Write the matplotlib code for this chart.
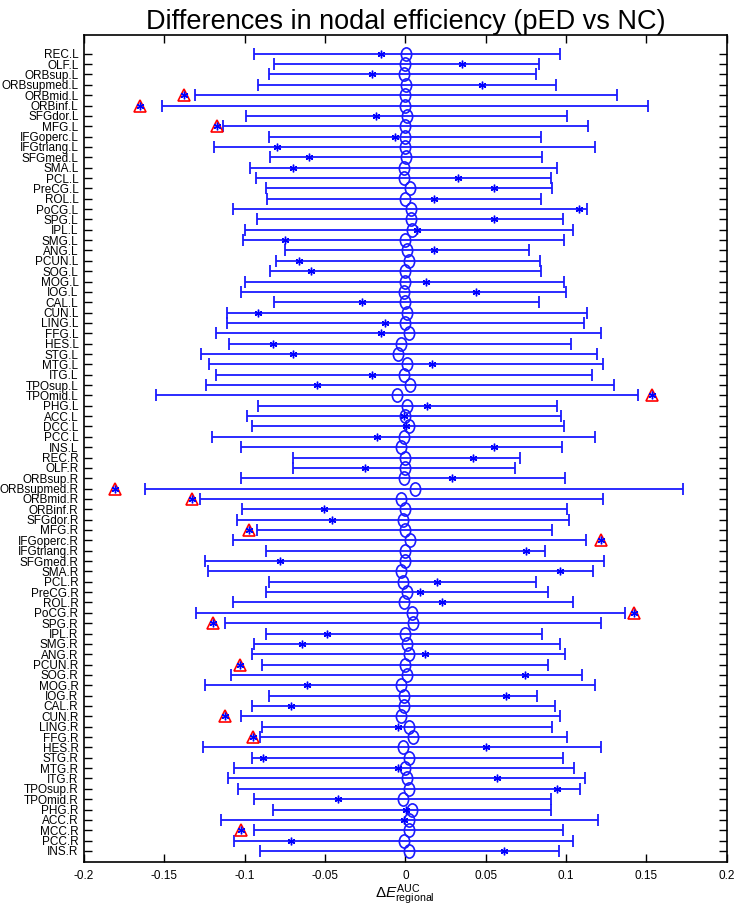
import matplotlib
matplotlib.use('Agg')
import matplotlib.pyplot as plt
import numpy as np
from matplotlib.path import Path

plt.rcParams['font.family'] = ['Liberation Sans', 'DejaVu Sans']
plt.rcParams['mathtext.fontset'] = 'custom'
plt.rcParams['mathtext.rm'] = 'Liberation Sans'
plt.rcParams['mathtext.it'] = 'Liberation Sans:italic'

regions = ['REC.L', 'OLF.L', 'ORBsup.L', 'ORBsupmed.L', 'ORBmid.L', 'ORBinf.L', 'SFGdor.L', 'MFG.L',
           'IFGoperc.L', 'IFGtriang.L', 'SFGmed.L', 'SMA.L', 'PCL.L', 'PreCG.L', 'ROL.L', 'PoCG.L',
           'SPG.L', 'IPL.L', 'SMG.L', 'ANG.L', 'PCUN.L', 'SOG.L', 'MOG.L', 'IOG.L', 'CAL.L', 'CUN.L',
           'LING.L', 'FFG.L', 'HES.L', 'STG.L', 'MTG.L', 'ITG.L', 'TPOsup.L', 'TPOmid.L', 'PHG.L',
           'ACC.L', 'DCC.L', 'PCC.L', 'INS.L',
           'REC.R', 'OLF.R', 'ORBsup.R', 'ORBsupmed.R', 'ORBmid.R', 'ORBinf.R', 'SFGdor.R', 'MFG.R',
           'IFGoperc.R', 'IFGtriang.R', 'SFGmed.R', 'SMA.R', 'PCL.R', 'PreCG.R', 'ROL.R', 'PoCG.R',
           'SPG.R', 'IPL.R', 'SMG.R', 'ANG.R', 'PCUN.R', 'SOG.R', 'MOG.R', 'IOG.R', 'CAL.R', 'CUN.R',
           'LING.R', 'FFG.R', 'HES.R', 'STG.R', 'MTG.R', 'ITG.R', 'TPOsup.R', 'TPOmid.R', 'PHG.R',
           'ACC.R', 'MCC.R', 'PCC.R', 'INS.R']

# lower / upper bound of the null interval
lower = [-0.094, -0.082, -0.085, -0.0915, -0.131, -0.1515, -0.099, -0.1135,
         -0.085, -0.119, -0.084, -0.097, -0.093, -0.0865, -0.086, -0.1075,
         -0.0925, -0.0995, -0.101, -0.075, -0.0805, -0.084, -0.100, -0.1025, -0.082, -0.111,
         -0.111, -0.118, -0.110, -0.1275, -0.122, -0.118, -0.124, -0.155, -0.0915,
         -0.0985, -0.0955, -0.1205, -0.102,
         -0.070, -0.070, -0.102, -0.162, -0.128, -0.1015, -0.105, -0.0925,
         -0.1075, -0.0865, -0.125, -0.123, -0.085, -0.0865, -0.107, -0.130,
         -0.1125, -0.0865, -0.094, -0.0955, -0.0895, -0.1085, -0.1245, -0.085, -0.0955, -0.102,
         -0.089, -0.0905, -0.126, -0.0955, -0.1065, -0.1105, -0.104, -0.094, -0.0825,
         -0.1145, -0.094, -0.1065, -0.0905]
upper = [0.096, 0.083, 0.0815, 0.094, 0.1316, 0.151, 0.1005, 0.1135,
         0.0842, 0.1183, 0.085, 0.0942, 0.0905, 0.091, 0.0842, 0.1128,
         0.098, 0.1044, 0.0988, 0.0768, 0.0836, 0.0842, 0.0988, 0.1002, 0.083, 0.1128,
         0.1114, 0.1216, 0.103, 0.119, 0.123, 0.1162, 0.130, 0.1446, 0.0942,
         0.0967, 0.0988, 0.1183, 0.0973,
         0.0712, 0.0683, 0.0996, 0.173, 0.1233, 0.1004, 0.1021, 0.091,
         0.1123, 0.0869, 0.1239, 0.1168, 0.0815, 0.0886, 0.1044, 0.137,
         0.1216, 0.0849, 0.096, 0.0994, 0.0886, 0.1098, 0.1183, 0.0822, 0.0932, 0.096,
         0.091, 0.1004, 0.1216, 0.098, 0.105, 0.112, 0.109, 0.0905, 0.0905,
         0.1197, 0.098, 0.1043, 0.0955]
# mean of the null distribution (circles)
null_mean = [0.0005, 0.0, -0.001, 0.0005, 0.0, 0.0, 0.001, 0.0,
             -0.0005, -0.0005, 0.0005, -0.001, -0.001, 0.003, -0.0005, 0.0035,
             0.0035, 0.004, -0.0005, 0.001, 0.002, 0.0, -0.0005, -0.001, 0.0, 0.001,
             0.0, 0.002, -0.003, -0.0045, 0.001, -0.001, 0.003, -0.005, 0.001,
             -0.0005, 0.002, -0.001, -0.0025,
             0.0, -0.0005, -0.001, 0.006, -0.0025, -0.0005, -0.0015, -0.0005,
             0.003, 0.0, -0.0005, -0.003, -0.0015, 0.001, -0.001, 0.004,
             0.0045, -0.0005, 0.001, 0.0025, -0.0005, 0.001, -0.0025, -0.001, -0.001, -0.003,
             0.002, 0.005, -0.0015, 0.002, -0.0005, 0.001, 0.0025, -0.0015, 0.004,
             0.0025, 0.0025, -0.001, 0.0025]
# observed difference (asterisks)
delta = [-0.015, 0.035, -0.021, 0.048, -0.138, -0.165, -0.018, -0.117,
         -0.0065, -0.080, -0.060, -0.070, 0.033, 0.055, 0.018, 0.1083,
         0.055, 0.007, -0.075, 0.018, -0.0665, -0.059, 0.013, 0.044, -0.027, -0.092,
         -0.0125, -0.015, -0.0825, -0.070, 0.0165, -0.021, -0.055, 0.1536, 0.0135,
         -0.001, 0.0003, -0.0175, 0.055,
         0.042, -0.025, 0.029, -0.1805, -0.133, -0.0505, -0.0455, -0.0975,
         0.1216, 0.0753, -0.078, 0.096, 0.020, 0.009, 0.023, 0.1424,
         -0.1195, -0.0485, -0.0645, 0.012, -0.103, 0.0745, -0.061, 0.0627, -0.071, -0.112,
         -0.0045, -0.095, 0.050, -0.0885, -0.0045, 0.0573, 0.0946, -0.042, 0.0005,
         -0.001, -0.102, -0.071, 0.0614]
significant = ['ORBmid.L', 'ORBinf.L', 'MFG.L', 'TPOmid.L', 'ORBsupmed.R', 'ORBmid.R', 'MFG.R',
               'IFGoperc.R', 'PoCG.R', 'SPG.R', 'PCUN.R', 'CUN.R', 'FFG.R', 'MCC.R']

xticks = [-0.2, -0.15, -0.1, -0.05, 0, 0.05, 0.1, 0.15, 0.2]
xticklabels = ['-0.2', '-0.15', '-0.1', '-0.05', '0', '0.05', '0.1', '0.15', '0.2']

lower = np.array(lower)
upper = np.array(upper)
null_mean = np.array(null_mean)
delta = np.array(delta)
y = np.arange(len(regions))
sig = np.array([r in significant for r in regions])

fig = plt.figure(figsize=(7.37, 9.11), dpi=100)
ax = fig.add_axes((0.114, 0.054, 0.872, 0.908))

blue = '#1a1aff'
ax.errorbar(null_mean, y, xerr=[null_mean - lower, upper - null_mean], fmt='none',
            ecolor=blue, elinewidth=1.3, capsize=4, capthick=1.3)

circ = Path.unit_circle()
oval = Path(circ.vertices * [0.78, 1.0], circ.codes)
ax.plot(null_mean, y, ls='none', marker=oval, ms=9.5, mfc='none', mec=blue, mew=1.2)
ax.plot(delta[sig], y[sig], ls='none', marker='^', ms=9, mfc='none', mec='red', mew=1.2)
ax.plot(delta, y, ls='none', marker=(6, 2, 0), ms=5.5, mec='blue', mew=1.0)

ax.set_xlim(-0.2, 0.2)
ax.set_ylim(78.05, -1.85)
ax.set_xticks(xticks, xticklabels, fontsize=8.5)
ax.set_yticks(y, regions, fontsize=8.5)
ax.tick_params(direction='in', top=True, right=True, length=5.5, width=1)
ax.tick_params(axis='y', pad=4)
ax.tick_params(axis='x', pad=6)
for s in ax.spines.values():
    s.set_linewidth(1.2)

ax.set_xlabel(r'$\Delta E^{\mathrm{AUC}}_{\mathrm{regional}}$', fontsize=11, labelpad=0)
ax.set_title('Differences in nodal efficiency (pED vs NC)', fontsize=19.5, pad=4)

fig.savefig('out.png', dpi=100)
